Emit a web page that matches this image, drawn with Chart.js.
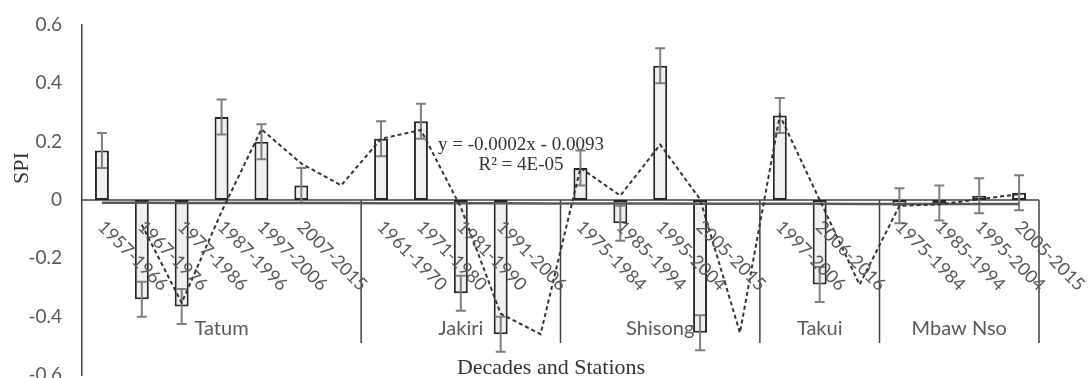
<!DOCTYPE html>
<html>
<head>
<meta charset="utf-8">
<script src="https://cdn.jsdelivr.net/npm/chart.js@4"></script>
<style>
  html, body { margin: 0; padding: 0; background: #ffffff; }
  #wrap { width: 1089px; height: 378px; position: relative; }
</style>
</head>
<body>
<div id="wrap"><canvas id="chart"></canvas></div>
<script>
// Stations and the number of category slots each one occupies (last slot is a spacer)
const stations = ['Tatum', 'Jakiri', 'Shisong', 'Takui', 'Mbaw Nso'];
const stationSlots = [7, 5, 5, 3, 4];

// Decade labels per slot ('' = spacer between stations)
const decades = [
  '1957-1966', '1967-1976', '1977-1986', '1987-1996', '1997-2006', '2007-2015', '',
  '1961-1970', '1971-1980', '1981-1990', '1991-2006', '',
  '1975-1984', '1985-1994', '1995-2004', '2005-2015', '',
  '1997-2006', '2006-2016', '',
  '1975-1984', '1985-1994', '1995-2004', '2005-2015'
];

// Mean SPI per decade
const spi = [
  0.17, -0.34, -0.365, 0.285, 0.2, 0.05, null,
  0.21, 0.27, -0.32, -0.46, null,
  0.11, -0.08, 0.46, -0.455, null,
  0.29, -0.29, null,
  -0.02, -0.01, 0.015, 0.025
];

// Standard error of each decade mean
const spiError = [
  0.06, 0.06, 0.06, 0.06, 0.06, 0.06, null,
  0.06, 0.06, 0.06, 0.06, null,
  0.06, 0.06, 0.06, 0.06, null,
  0.06, 0.06, null,
  0.06, 0.06, 0.06, 0.06
];

// Y axis ticks
const spiTicks = [-0.6, -0.4, -0.2, 0, 0.2, 0.4, 0.6];

// Linear trendline as stated by its equation
const trendSlope = -0.0002;
const trendIntercept = -0.0093;
const trendLabel = ['y = -0.0002x - 0.0093', 'R\u00B2 = 4E-05'];

// Two-period moving average (blank slots are skipped)
const movingAvg = spi.map((v, i) => {
  if (i === 0) return null;
  const pair = [spi[i - 1], v].filter(x => x !== null);
  return pair.length ? pair.reduce((a, b) => a + b, 0) / pair.length : null;
});

// Linear trend evaluated at x = 1..n
const linearTrend = spi.map((_, i) => trendSlope * (i + 1) + trendIntercept);

const SANS = 'Lato, "Liberation Sans", sans-serif';
const SERIF = '"Liberation Serif", "DejaVu Serif", serif';
const LABEL_GREY = '#595959';

const decorations = {
  id: 'decorations',
  beforeDatasetsDraw(chart) {
    const { ctx, chartArea, scales } = chart;
    const x = scales.x, y = scales.y;
    const y0 = y.getPixelForValue(0);
    ctx.save();
    // horizontal axis at zero
    ctx.strokeStyle = '#404040';
    ctx.lineWidth = 1.5;
    ctx.beginPath();
    ctx.moveTo(chartArea.left, y0);
    ctx.lineTo(chartArea.right, y0);
    ctx.stroke();
    // station separators
    let idx = 0;
    stationSlots.forEach((n) => {
      idx += n;
      let bx;
      if (idx >= decades.length) bx = chartArea.right;
      else bx = (x.getPixelForValue(idx - 1) + x.getPixelForValue(idx)) / 2;
      ctx.beginPath();
      ctx.moveTo(bx, y0);
      ctx.lineTo(bx, 343);
      ctx.stroke();
    });
    ctx.restore();
  },
  afterDatasetDraw(chart, args) {
    if (args.index !== 0) return;
    const { ctx, scales } = chart;
    const x = scales.x, y = scales.y;
    ctx.save();
    ctx.strokeStyle = '#7f7f7f';
    ctx.lineWidth = 2;
    spi.forEach((v, i) => {
      if (v === null || spiError[i] === null) return;
      const cx = x.getPixelForValue(i);
      const yt = y.getPixelForValue(v + spiError[i]);
      const yb = y.getPixelForValue(v - spiError[i]);
      ctx.beginPath();
      ctx.moveTo(cx, yt); ctx.lineTo(cx, yb);
      ctx.moveTo(cx - 5, yt); ctx.lineTo(cx + 5, yt);
      ctx.moveTo(cx - 5, yb); ctx.lineTo(cx + 5, yb);
      ctx.stroke();
    });
    ctx.restore();
  },
  afterDraw(chart) {
    const { ctx, chartArea, scales } = chart;
    const x = scales.x;
    ctx.save();
    // decade labels, slanted
    ctx.fillStyle = LABEL_GREY;
    ctx.font = '18px ' + SANS;
    ctx.textAlign = 'left';
    ctx.textBaseline = 'middle';
    decades.forEach((lab, i) => {
      if (!lab) return;
      const cx = x.getPixelForValue(i);
      ctx.save();
      ctx.translate(cx - 1, 224);
      ctx.rotate(Math.PI / 4);
      ctx.fillText(lab, 0, 0);
      ctx.restore();
    });
    // station labels
    ctx.font = '20px ' + SANS;
    ctx.textAlign = 'center';
    ctx.textBaseline = 'alphabetic';
    let start = 0;
    stationSlots.forEach((n, s) => {
      const left = start === 0 ? chartArea.left
        : (x.getPixelForValue(start - 1) + x.getPixelForValue(start)) / 2;
      const end = start + n;
      const right = end >= decades.length ? chartArea.right
        : (x.getPixelForValue(end - 1) + x.getPixelForValue(end)) / 2;
      ctx.fillText(stations[s], (left + right) / 2, 335);
      start = end;
    });
    // axis titles
    ctx.fillStyle = '#333333';
    ctx.font = '22px ' + SERIF;
    ctx.fillText('Decades and Stations', 551, 374);
    ctx.save();
    ctx.translate(22, 168);
    ctx.rotate(-Math.PI / 2);
    ctx.textBaseline = 'middle';
    ctx.fillText('SPI', 0, 0);
    ctx.restore();
    // trendline equation
    ctx.font = '19px ' + SERIF;
    ctx.fillText(trendLabel[0], 521, 150);
    ctx.fillText(trendLabel[1], 521, 170);
    ctx.restore();
  }
};

new Chart(document.getElementById('chart'), {
  type: 'bar',
  data: {
    labels: decades,
    datasets: [
      {
        type: 'bar',
        data: spi,
        backgroundColor: '#f0f0f0',
        borderColor: '#262626',
        borderWidth: 2,
        borderSkipped: false,
        barPercentage: 0.35,
        categoryPercentage: 1,
        order: 3
      },
      {
        type: 'line',
        data: linearTrend,
        borderColor: '#595959',
        borderWidth: 2.5,
        pointRadius: 0,
        tension: 0,
        order: 2
      },
      {
        type: 'line',
        data: movingAvg,
        borderColor: '#333333',
        borderWidth: 2,
        borderDash: [4, 3],
        pointRadius: 0,
        tension: 0,
        order: 1
      }
    ]
  },
  options: {
    responsive: true,
    maintainAspectRatio: false,
    animation: false,
    devicePixelRatio: 1,
    layout: { padding: { left: 0, right: 50, top: 25, bottom: 3 } },
    plugins: { legend: { display: false }, tooltip: { enabled: false } },
    scales: {
      x: { display: false, offset: true },
      y: {
        min: -0.6,
        max: 0.6,
        afterBuildTicks(scale) { scale.ticks = spiTicks.map(v => ({ value: v })); },
        afterFit(scale) { scale.width = 82; scale.paddingTop = 0; scale.paddingBottom = 0; },
        ticks: {
          color: LABEL_GREY,
          font: { family: SANS, size: 19 },
          padding: 20,
          callback: v => String(Math.round(v * 10) / 10)
        },
        grid: { display: false, drawTicks: false },
        border: { display: true, color: '#404040', width: 1.5 }
      }
    }
  },
  plugins: [decorations]
});
</script>
</body>
</html>
